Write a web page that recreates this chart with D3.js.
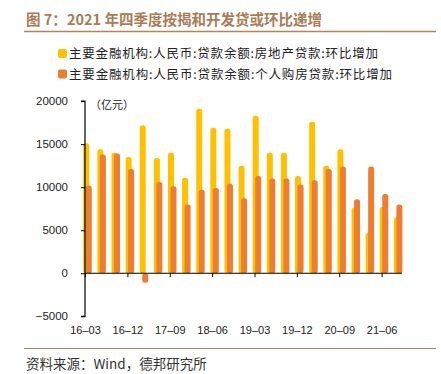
<!DOCTYPE html>
<html>
<head>
<meta charset="utf-8">
<script src="https://cdn.jsdelivr.net/npm/d3@7"></script>
<style>
  body { margin: 0; background: #fff; }
  svg { display: block; }
</style>
</head>
<body>
<div id="chart"></div>
<script>
(function() {
    // Data: quarterly change, 亿元
    const quarters = ["16-03","16-06","16-09","16-12","17-03","17-06","17-09","17-12",
      "18-03","18-06","18-09","18-12","19-03","19-06","19-09","19-12",
      "20-03","20-06","20-09","20-12","21-03","21-06","21-09"];
    const realEstate = [15100, 14400, 14000, 13500, 17200, 13400, 14000, 11100,
      19100, 16900, 16800, 12500, 18300, 14000, 14000, 11300,
      17600, 12500, 14400, 7600, 4700, 7700, 6500];
    const mortgage = [10200, 13800, 13900, 12100, -1100, 10600, 10100, 8000,
      9700, 9900, 10400, 8700, 11300, 11000, 11000, 10300,
      10800, 12100, 12400, 8600, 12400, 9200, 8000];
    const tickLabels = ["16-03","16-12","17-09","18-06","19-03","19-12","20-09","21-06"];
    const yTicks = [-5000, 0, 5000, 10000, 15000, 20000];
    const seriesNames = [
      "主要金融机构:人民币:贷款余额:房地产贷款:环比增加",
      "主要金融机构:人民币:贷款余额:个人购房贷款:环比增加"
    ];

    const width = 441;
    const height = 374;
    const yellow = "#FFC000";
    const orange = "#ED7D31";
    const brown = "#A87C55";
    const font = "'Liberation Sans', Arial, sans-serif";
    const cjk = "'Noto Sans CJK SC', sans-serif";

    const svg = d3.select("#chart")
      .append("svg")
      .attr("width", width)
      .attr("height", height);

    // Title + rule
    svg.append("text")
      .attr("x", 26)
      .attr("y", 25)
      .attr("fill", brown)
      .attr("textLength", 296)
      .attr("lengthAdjust", "spacing")
      .style("font-family", cjk)
      .style("font-weight", "bold")
      .style("font-size", "14.5px")
      .text("图 7：2021 年四季度按揭和开发贷或环比递增");

    svg.append("line")
      .attr("x1", 24).attr("x2", 436)
      .attr("y1", 31.5).attr("y2", 31.5)
      .attr("stroke", "#B5835A")
      .attr("stroke-width", 1.3);

    // Legend
    const legend = svg.selectAll(".legend")
      .data(seriesNames)
      .enter()
      .append("g")
      .attr("class", "legend")
      .attr("transform", function(d, i) { return `translate(58,${49 + i * 20.5})`; });

    legend.append("rect")
      .attr("width", 9)
      .attr("height", 9)
      .attr("rx", 2)
      .attr("fill", function(d, i) { return i === 0 ? yellow : orange; });

    legend.append("text")
      .attr("x", 11)
      .attr("y", 9)
      .attr("fill", "#222")
      .attr("textLength", function(d, i) { return i === 0 ? 309 : 323; })
      .attr("lengthAdjust", "spacing")
      .style("font-family", cjk)
      .style("font-size", "12.5px")
      .text(function(d) { return d; });

    // Scales
    const x = d3.scaleBand()
      .domain(quarters)
      .range([78.5, 78.5 + 23 * 14.12])
      .padding(0);

    const y = d3.scaleLinear()
      .domain([-5000, 20000])
      .range([316.3, 101.1]);

    const cx = function(q) { return x(q) + x.bandwidth() / 2; };

    // Bars: yellow first, orange drawn over it slightly to the right
    const barW = 6;
    function barY(v) { return v >= 0 ? y(v) : y(0); }
    function barH(v) { return Math.abs(y(v) - y(0)); }

    svg.selectAll(".bar-re")
      .data(realEstate)
      .enter()
      .append("rect")
      .attr("class", "bar-re")
      .attr("x", function(d, i) { return cx(quarters[i]) - 2.3; })
      .attr("y", function(d) { return barY(d); })
      .attr("width", barW)
      .attr("height", function(d) { return barH(d); })
      .attr("rx", 2.5)
      .attr("fill", yellow);

    svg.selectAll(".bar-mg")
      .data(mortgage)
      .enter()
      .append("rect")
      .attr("class", "bar-mg")
      .attr("x", function(d, i) { return cx(quarters[i]) + 0.2; })
      .attr("y", function(d) { return barY(d); })
      .attr("width", barW)
      .attr("height", function(d) { return barH(d); })
      .attr("rx", 2.5)
      .attr("fill", orange);

    // Y axis
    const yAxis = d3.axisLeft(y)
      .tickValues(yTicks)
      .tickSize(4)
      .tickPadding(13)
      .tickFormat(d3.format("d"));

    const gy = svg.append("g")
      .attr("transform", "translate(85,0)")
      .call(yAxis);
    gy.select(".domain").attr("stroke", "#000").attr("stroke-width", 1.2)
      .attr("d", `M-4,${y(20000)}H0V${y(-5000)}H-4`);
    gy.selectAll(".tick line").attr("stroke", "#000");
    gy.selectAll(".tick text")
      .attr("fill", "#222")
      .style("font-family", font)
      .style("font-size", "11.5px");

    // X axis on zero line
    const xAxis = d3.axisBottom(x)
      .tickValues(tickLabels)
      .tickSize(4)
      .tickFormat("");

    const gx = svg.append("g")
      .attr("transform", `translate(0,${y(0)})`)
      .call(xAxis);
    gx.select(".domain")
      .attr("d", `M85,0H402`)
      .attr("stroke", "#000")
      .attr("stroke-width", 1.2);
    gx.selectAll(".tick line").attr("stroke", "#000");

    // category labels sit under the plot, not at the zero line
    svg.selectAll(".xlabel")
      .data(tickLabels)
      .enter()
      .append("text")
      .attr("class", "xlabel")
      .attr("x", function(d) { return cx(d); })
      .attr("y", 334)
      .attr("text-anchor", "middle")
      .attr("fill", "#222")
      .style("font-family", font)
      .style("font-size", "11px")
      .text(function(d) { return d.replace("-", "–"); });

    // unit label
    svg.append("text")
      .attr("x", 90)
      .attr("y", 109)
      .attr("fill", "#222")
      .style("font-family", cjk)
      .style("font-size", "11px")
      .text("（亿元）");

    // Footer
    svg.append("line")
      .attr("x1", 24).attr("x2", 436)
      .attr("y1", 348.5).attr("y2", 348.5)
      .attr("stroke", "#B5835A")
      .attr("stroke-width", 1);

    svg.append("text")
      .attr("x", 26)
      .attr("y", 369)
      .attr("fill", "#333")
      .style("font-family", cjk)
      .style("font-size", "13.5px")
      .text("资料来源：Wind，德邦研究所");
})();
</script>
</body>
</html>
